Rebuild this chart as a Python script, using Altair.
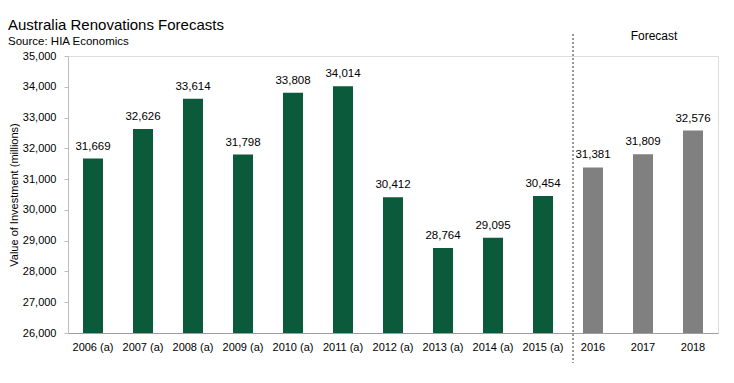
import altair as alt
import pandas as pd

years = ["2006 (a)", "2007 (a)", "2008 (a)", "2009 (a)", "2010 (a)", "2011 (a)",
         "2012 (a)", "2013 (a)", "2014 (a)", "2015 (a)", "2016", "2017", "2018"]
values = [31669, 32626, 33614, 31798, 33808, 34014, 30412, 28764, 29095, 30454,
          31381, 31809, 32576]
kinds = ["actual"] * 10 + ["forecast"] * 3

df = pd.DataFrame({"year": years, "value": values, "kind": kinds})
df["label"] = df["value"].map(lambda v: f"{v:,}")

W, H = 650, 277
FONT = "Liberation Sans"

x = alt.X("year:N", sort=years, title=None,
          scale=alt.Scale(paddingInner=0.6, paddingOuter=0.3),
          axis=alt.Axis(labelAngle=0, ticks=False, labelFont=FONT, labelFontSize=11,
                        labelColor="#000", domainColor="#9e9e9e", labelPadding=8))
y = alt.Y("value:Q", title="Value of Investment (millions)",
          scale=alt.Scale(domain=[26000, 35000], nice=False, zero=False),
          axis=alt.Axis(values=list(range(26000, 35001, 1000)), format=",.0f", grid=False,
                        labelFont=FONT, labelFontSize=11, labelColor="#000",
                        titleFont=FONT, titleFontSize=11, titleFontWeight="normal",
                        titleColor="#000", domainColor="#bdbdbd", tickColor="#bdbdbd",
                        tickSize=4, labelPadding=8, titlePadding=3))

base = alt.Chart(df).encode(x=x, y=y)

bars = base.mark_bar(size=20, clip=True).encode(
    color=alt.Color("kind:N", scale=alt.Scale(domain=["actual", "forecast"],
                                              range=["#0b5a3c", "#808080"]), legend=None),
)
labels = base.mark_text(dy=-12, font=FONT, fontSize=11.5, color="#000").encode(text="label:N")

divider = alt.Chart(pd.DataFrame({"year": ["2016"]})).mark_rule(
    strokeDash=[2, 2], color="#333", strokeWidth=1, xOffset=-10).encode(
    x=alt.X("year:N", sort=years, bandPosition=0),
    y=alt.value(-22), y2=alt.value(H + 30))

fc = alt.Chart(pd.DataFrame({"year": ["2017"], "t": ["Forecast"]})).mark_text(
    font=FONT, fontSize=12, color="#000", dx=11).encode(
    x=alt.X("year:N", sort=years), y=alt.value(-20), text="t:N")

chart = alt.layer(bars, labels, divider, fc).properties(
    width=W, height=H,
    title=alt.TitleParams("Australia Renovations Forecasts", subtitle="Source: HIA Economics",
                          anchor="start", frame="group", font=FONT, fontSize=15,
                          fontWeight="normal", subtitleFont=FONT, subtitleFontSize=11.5,
                          subtitleColor="#000", color="#000", offset=-17, dx=-60,
                          subtitlePadding=3),
).configure_view(stroke=None).configure(padding={"left": 0, "top": 9, "right": 5, "bottom": 5})

chart.save("out.html", embed_options={"renderer": "svg", "actions": False})
